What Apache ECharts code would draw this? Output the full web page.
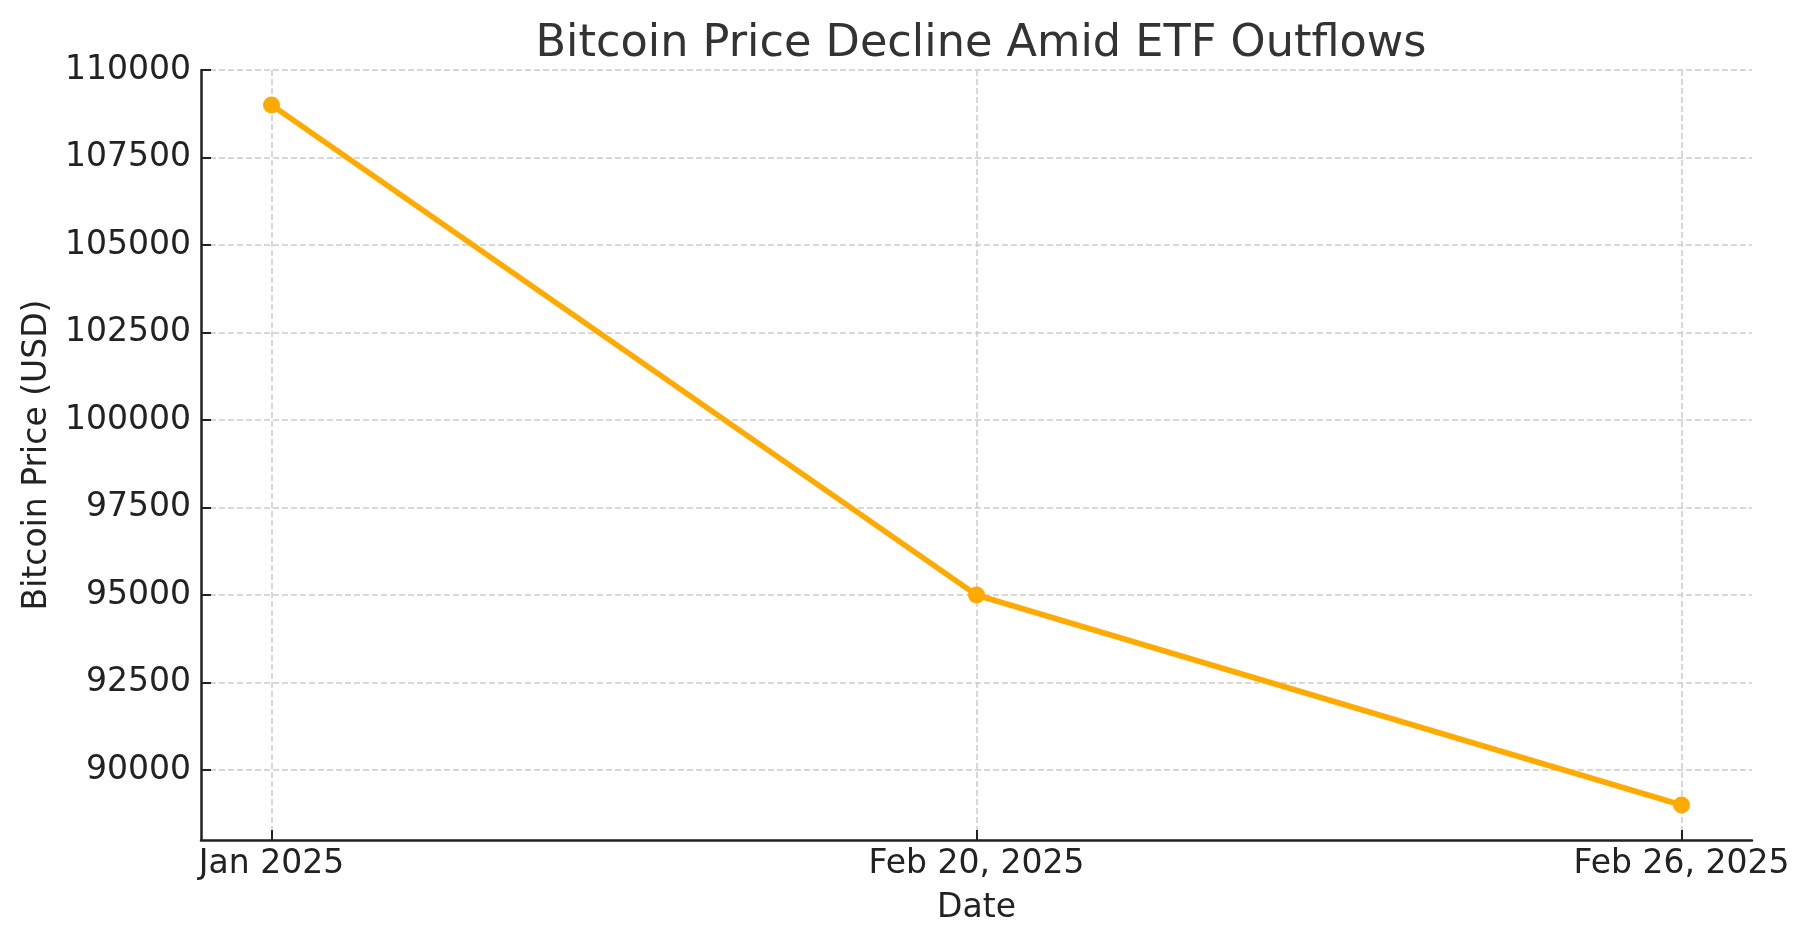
<!DOCTYPE html>
<html>
<head>
<meta charset="utf-8">
<script src="https://cdn.jsdelivr.net/npm/echarts@6/dist/echarts.min.js"></script>
<style>
html,body{margin:0;padding:0;background:#fff;}
#chart{width:1810px;height:947px;}
</style>
</head>
<body>
<div id="chart"></div>
<script>
const dateLabels = ["Jan 2025", "Feb 20, 2025", "Feb 26, 2025"];
const prices = [109000, 95000, 89000];
const yTicks = [90000, 92500, 95000, 97500, 100000, 102500, 105000, 107500, 110000];
const xTicks = [0, 1, 2];

const FONT = "DejaVu Sans";
const chart = echarts.init(document.getElementById('chart'), null, {renderer: 'canvas'});
const gridLine = {show: true, lineStyle: {color: '#cccccc', width: 1.5, type: [6, 3]}};

chart.setOption({
  backgroundColor: '#ffffff',
  animation: false,
  title: {
    text: 'Bitcoin Price Decline Amid ETF Outflows',
    left: 976, textAlign: 'center', top: 17,
    textStyle: {fontFamily: FONT, fontSize: 44.6, fontWeight: 'normal', color: '#333333'}
  },
  grid: {left: 201, right: 58, top: 70, bottom: 107, containLabel: false},
  xAxis: {
    type: 'value', min: -0.1, max: 2.1,
    name: 'Date', nameLocation: 'middle', nameGap: 52,
    nameTextStyle: {fontFamily: FONT, fontSize: 33, color: '#222222'},
    axisLine: {show: true, onZero: false, lineStyle: {color: '#222222', width: 2.5}},
    axisTick: {show: true, inside: true, length: 10, customValues: xTicks, lineStyle: {color: '#222222', width: 2}},
    axisLabel: {customValues: xTicks, margin: 8, fontFamily: FONT, fontSize: 33, color: '#222222',
      formatter: v => dateLabels[Math.round(v)] || ''},
    splitLine: gridLine
  },
  yAxis: {
    type: 'value', min: 88000, max: 110000,
    name: 'Bitcoin Price (USD)', nameLocation: 'middle', nameGap: 138, nameRotate: 90,
    nameTextStyle: {fontFamily: FONT, fontSize: 33, color: '#222222'},
    axisLine: {show: true, onZero: false, lineStyle: {color: '#222222', width: 2.5}},
    axisTick: {show: true, inside: true, length: 10, customValues: yTicks, lineStyle: {color: '#222222', width: 2}},
    axisLabel: {customValues: yTicks, margin: 10, fontFamily: FONT, fontSize: 33, color: '#222222',
      formatter: v => String(v)},
    splitLine: gridLine
  },
  series: [{
    type: 'line',
    data: prices.map((p, i) => [i, p]),
    symbol: 'circle', symbolSize: 17,
    lineStyle: {color: '#FFAA00', width: 5.5},
    itemStyle: {color: '#FFAA00'},
    z: 5
  }]
});
</script>
</body>
</html>
